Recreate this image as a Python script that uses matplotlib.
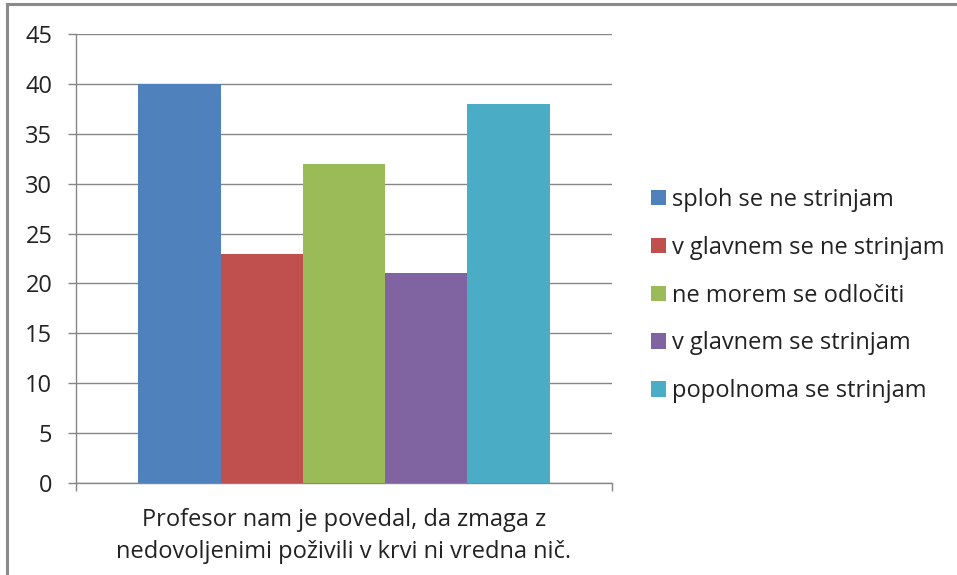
import matplotlib.pyplot as plt
from matplotlib.lines import Line2D

categories = ["sploh se ne strinjam", "v glavnem se ne strinjam", "ne morem se odločiti",
              "v glavnem se strinjam", "popolnoma se strinjam"]
values = [40, 23, 32, 21, 38]
colors = ["#4F81BD", "#C0504D", "#9BBB59", "#8064A2", "#4BACC6"]
y_ticks = [0, 5, 10, 15, 20, 25, 30, 35, 40, 45]
group_label = "Profesor nam je povedal, da zmaga z\nnedovoljenimi poživili v krvi ni vredna nič."

plt.rcParams['font.family'] = ['Open Sans', 'DejaVu Sans']
grey = "#868686"
fs = 17

fig = plt.figure(figsize=(9.57, 5.75), dpi=100)
ax = fig.add_axes([76/957, 92/575, 536/957, 449/575])

handles = []
for i, (lab, v, c) in enumerate(zip(categories, values, colors)):
    b = ax.bar(i, v, width=1.0, color=c, label=lab, zorder=3)
    handles.append(b)

gap = 0.756
ax.set_xlim(-0.5 - gap, len(values) - 0.5 + gap)
ax.set_ylim(0, 45)
ax.set_yticks(y_ticks)
ax.tick_params(axis='y', labelsize=fs, length=6, width=1, color=grey, pad=11, labelcolor="#222222")
ax.yaxis.grid(True, color=grey, lw=1, zorder=0)

ax.set_xticks([(len(values) - 1) / 2])
ax.set_xticklabels([group_label], fontsize=fs, color="#222222", linespacing=1.45)
ax.tick_params(axis='x', which='major', length=0, pad=18)
ax.set_xticks(list(ax.get_xlim()), minor=True)
ax.tick_params(axis='x', which='minor', length=6, width=1, color=grey)

for s in ['top', 'right']:
    ax.spines[s].set_visible(False)
for s in ['left', 'bottom']:
    ax.spines[s].set_color(grey)
    ax.spines[s].set_linewidth(1)

fig.legend(handles=handles, labels=categories, loc='center left',
           bbox_to_anchor=(651/957, 1 - 295.5/575), frameon=False, fontsize=fs,
           handlelength=0.62, handleheight=0.62, handletextpad=0.28,
           labelspacing=1.01, borderpad=0, borderaxespad=0, labelcolor="#222222")

# outer frame (top and left edges visible)
fig.add_artist(Line2D([7.5/957, 1], [1 - 4/575, 1 - 4/575], transform=fig.transFigure, color="#8a8a8a", lw=2.2))
fig.add_artist(Line2D([7.5/957, 7.5/957], [0, 1 - 4/575], transform=fig.transFigure, color="#8a8a8a", lw=2.2))

fig.savefig("out.png", dpi=100)
